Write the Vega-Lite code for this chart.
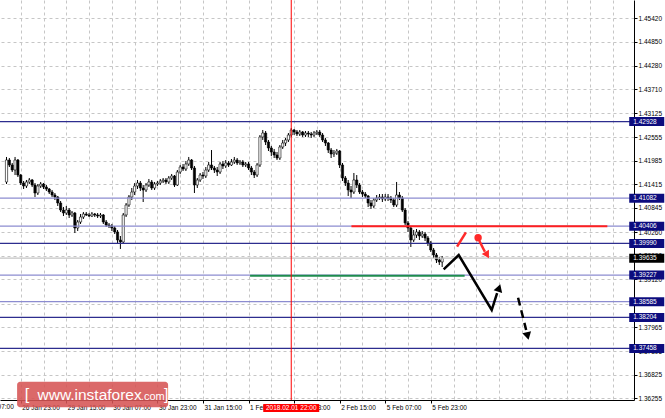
{
  "$schema": "https://vega.github.io/schema/vega-lite/v6.json",
  "width": 634,
  "height": 400,
  "autosize": {"type": "none"},
  "padding": {"left": 0, "top": 0, "right": 31, "bottom": 18},
  "background": "white",
  "config": {
    "view": {"stroke": null},
    "axis": {"labelFont": "Liberation Sans", "labelFontSize": 6.5, "labelColor": "#000", "labelOverlap": false, "labelSeparation": 0}
  },
  "datasets": {
    "candles": [
      {"t":1,"o":1.41472,"h":1.42075,"l":1.41423,"c":1.42002},
      {"t":2,"o":1.42002,"h":1.42050,"l":1.41833,"c":1.41882},
      {"t":3,"o":1.41882,"h":1.41930,"l":1.41713,"c":1.41761},
      {"t":4,"o":1.41761,"h":1.42075,"l":1.41640,"c":1.42002},
      {"t":5,"o":1.42002,"h":1.42026,"l":1.41592,"c":1.41640},
      {"t":6,"o":1.41640,"h":1.41665,"l":1.41399,"c":1.41447},
      {"t":7,"o":1.41447,"h":1.41496,"l":1.41303,"c":1.41375},
      {"t":8,"o":1.41375,"h":1.41520,"l":1.41327,"c":1.41472},
      {"t":9,"o":1.41472,"h":1.41568,"l":1.41423,"c":1.41520},
      {"t":10,"o":1.41520,"h":1.41544,"l":1.41351,"c":1.41399},
      {"t":11,"o":1.41399,"h":1.41447,"l":1.41110,"c":1.41206},
      {"t":12,"o":1.41206,"h":1.41423,"l":1.41158,"c":1.41375},
      {"t":13,"o":1.41375,"h":1.41472,"l":1.41327,"c":1.41423},
      {"t":14,"o":1.41423,"h":1.41447,"l":1.41303,"c":1.41351},
      {"t":15,"o":1.41351,"h":1.41399,"l":1.41255,"c":1.41303},
      {"t":16,"o":1.41303,"h":1.41327,"l":1.41182,"c":1.41230},
      {"t":17,"o":1.41230,"h":1.41279,"l":1.41110,"c":1.41158},
      {"t":18,"o":1.41158,"h":1.41206,"l":1.41037,"c":1.41110},
      {"t":19,"o":1.41110,"h":1.41134,"l":1.40893,"c":1.40965},
      {"t":20,"o":1.40965,"h":1.41013,"l":1.40748,"c":1.40796},
      {"t":21,"o":1.40796,"h":1.40869,"l":1.40651,"c":1.40724},
      {"t":22,"o":1.40724,"h":1.40893,"l":1.40676,"c":1.40796},
      {"t":23,"o":1.40796,"h":1.40844,"l":1.40603,"c":1.40676},
      {"t":24,"o":1.40676,"h":1.40772,"l":1.40627,"c":1.40724},
      {"t":25,"o":1.40724,"h":1.40748,"l":1.40241,"c":1.40362},
      {"t":26,"o":1.40362,"h":1.40555,"l":1.40290,"c":1.40507},
      {"t":27,"o":1.40507,"h":1.40700,"l":1.40459,"c":1.40627},
      {"t":28,"o":1.40627,"h":1.40748,"l":1.40579,"c":1.40700},
      {"t":29,"o":1.40700,"h":1.40748,"l":1.40651,"c":1.40676},
      {"t":30,"o":1.40676,"h":1.40724,"l":1.40627,"c":1.40651},
      {"t":31,"o":1.40651,"h":1.40748,"l":1.40627,"c":1.40700},
      {"t":32,"o":1.40700,"h":1.40724,"l":1.40627,"c":1.40676},
      {"t":33,"o":1.40676,"h":1.40724,"l":1.40603,"c":1.40651},
      {"t":34,"o":1.40651,"h":1.40724,"l":1.40603,"c":1.40676},
      {"t":35,"o":1.40676,"h":1.40700,"l":1.40459,"c":1.40507},
      {"t":36,"o":1.40507,"h":1.40555,"l":1.40386,"c":1.40434},
      {"t":37,"o":1.40434,"h":1.40483,"l":1.40362,"c":1.40410},
      {"t":38,"o":1.40410,"h":1.40459,"l":1.40290,"c":1.40362},
      {"t":39,"o":1.40362,"h":1.40410,"l":1.40217,"c":1.40266},
      {"t":40,"o":1.40266,"h":1.40314,"l":1.40000,"c":1.40073},
      {"t":41,"o":1.40073,"h":1.40169,"l":1.39856,"c":1.40024},
      {"t":42,"o":1.40024,"h":1.40724,"l":1.39976,"c":1.40676},
      {"t":43,"o":1.40676,"h":1.40965,"l":1.40627,"c":1.40917},
      {"t":44,"o":1.40917,"h":1.41158,"l":1.40869,"c":1.41110},
      {"t":45,"o":1.41110,"h":1.41327,"l":1.41037,"c":1.41230},
      {"t":46,"o":1.41230,"h":1.41447,"l":1.41158,"c":1.41375},
      {"t":47,"o":1.41375,"h":1.41520,"l":1.41303,"c":1.41447},
      {"t":48,"o":1.41447,"h":1.41496,"l":1.41255,"c":1.41327},
      {"t":49,"o":1.41327,"h":1.41399,"l":1.40989,"c":1.41279},
      {"t":50,"o":1.41279,"h":1.41447,"l":1.41230,"c":1.41399},
      {"t":51,"o":1.41399,"h":1.41544,"l":1.41351,"c":1.41472},
      {"t":52,"o":1.41472,"h":1.41520,"l":1.41279,"c":1.41327},
      {"t":53,"o":1.41327,"h":1.41472,"l":1.41279,"c":1.41423},
      {"t":54,"o":1.41423,"h":1.41496,"l":1.41375,"c":1.41447},
      {"t":55,"o":1.41447,"h":1.41544,"l":1.41399,"c":1.41496},
      {"t":56,"o":1.41496,"h":1.41568,"l":1.41447,"c":1.41520},
      {"t":57,"o":1.41520,"h":1.41568,"l":1.41423,"c":1.41472},
      {"t":58,"o":1.41472,"h":1.41616,"l":1.41423,"c":1.41568},
      {"t":59,"o":1.41568,"h":1.41665,"l":1.41520,"c":1.41616},
      {"t":60,"o":1.41616,"h":1.41640,"l":1.41351,"c":1.41399},
      {"t":61,"o":1.41399,"h":1.41761,"l":1.41375,"c":1.41713},
      {"t":62,"o":1.41713,"h":1.41882,"l":1.41665,"c":1.41833},
      {"t":63,"o":1.41833,"h":1.41906,"l":1.41737,"c":1.41785},
      {"t":64,"o":1.41785,"h":1.41978,"l":1.41737,"c":1.41906},
      {"t":65,"o":1.41906,"h":1.42075,"l":1.41858,"c":1.42002},
      {"t":66,"o":1.42002,"h":1.42026,"l":1.41761,"c":1.41809},
      {"t":67,"o":1.41809,"h":1.41858,"l":1.41206,"c":1.41399},
      {"t":68,"o":1.41399,"h":1.41568,"l":1.41327,"c":1.41520},
      {"t":69,"o":1.41520,"h":1.41689,"l":1.41472,"c":1.41640},
      {"t":70,"o":1.41640,"h":1.41713,"l":1.41544,"c":1.41616},
      {"t":71,"o":1.41616,"h":1.41833,"l":1.41568,"c":1.41761},
      {"t":72,"o":1.41761,"h":1.41954,"l":1.41713,"c":1.41882},
      {"t":73,"o":1.41882,"h":1.42243,"l":1.41761,"c":1.41809},
      {"t":74,"o":1.41809,"h":1.41858,"l":1.41689,"c":1.41761},
      {"t":75,"o":1.41761,"h":1.41833,"l":1.41616,"c":1.41713},
      {"t":76,"o":1.41713,"h":1.41954,"l":1.41665,"c":1.41906},
      {"t":77,"o":1.41906,"h":1.41978,"l":1.41785,"c":1.41858},
      {"t":78,"o":1.41858,"h":1.42002,"l":1.41809,"c":1.41930},
      {"t":79,"o":1.41930,"h":1.41978,"l":1.41833,"c":1.41882},
      {"t":80,"o":1.41882,"h":1.42026,"l":1.41858,"c":1.41954},
      {"t":81,"o":1.41954,"h":1.42075,"l":1.41906,"c":1.42002},
      {"t":82,"o":1.42002,"h":1.42050,"l":1.41882,"c":1.41930},
      {"t":83,"o":1.41930,"h":1.42002,"l":1.41882,"c":1.41954},
      {"t":84,"o":1.41954,"h":1.42002,"l":1.41833,"c":1.41882},
      {"t":85,"o":1.41882,"h":1.41954,"l":1.41833,"c":1.41906},
      {"t":86,"o":1.41906,"h":1.41954,"l":1.41761,"c":1.41809},
      {"t":87,"o":1.41809,"h":1.41858,"l":1.41640,"c":1.41713},
      {"t":88,"o":1.41713,"h":1.41761,"l":1.41568,"c":1.41640},
      {"t":89,"o":1.41640,"h":1.41930,"l":1.41592,"c":1.41882},
      {"t":90,"o":1.41882,"h":1.42605,"l":1.41833,"c":1.42557},
      {"t":91,"o":1.42557,"h":1.42726,"l":1.42485,"c":1.42653},
      {"t":92,"o":1.42653,"h":1.42702,"l":1.42364,"c":1.42436},
      {"t":93,"o":1.42436,"h":1.42485,"l":1.42219,"c":1.42292},
      {"t":94,"o":1.42292,"h":1.42340,"l":1.42099,"c":1.42195},
      {"t":95,"o":1.42195,"h":1.42268,"l":1.42050,"c":1.42123},
      {"t":96,"o":1.42123,"h":1.42195,"l":1.42002,"c":1.42050},
      {"t":97,"o":1.42050,"h":1.42364,"l":1.42002,"c":1.42316},
      {"t":98,"o":1.42316,"h":1.42485,"l":1.42268,"c":1.42412},
      {"t":99,"o":1.42412,"h":1.42533,"l":1.42340,"c":1.42485},
      {"t":100,"o":1.42485,"h":1.42653,"l":1.42436,"c":1.42605},
      {"t":101,"o":1.42605,"h":1.42774,"l":1.42557,"c":1.42726},
      {"t":102,"o":1.42726,"h":1.42750,"l":1.42605,"c":1.42678},
      {"t":103,"o":1.42678,"h":1.42726,"l":1.42581,"c":1.42629},
      {"t":104,"o":1.42629,"h":1.42726,"l":1.42581,"c":1.42678},
      {"t":105,"o":1.42678,"h":1.42702,"l":1.42557,"c":1.42605},
      {"t":106,"o":1.42605,"h":1.42702,"l":1.42557,"c":1.42653},
      {"t":107,"o":1.42653,"h":1.42702,"l":1.42557,"c":1.42629},
      {"t":108,"o":1.42629,"h":1.42678,"l":1.42533,"c":1.42605},
      {"t":109,"o":1.42605,"h":1.42702,"l":1.42557,"c":1.42653},
      {"t":110,"o":1.42653,"h":1.42726,"l":1.42605,"c":1.42678},
      {"t":111,"o":1.42678,"h":1.42726,"l":1.42557,"c":1.42605},
      {"t":112,"o":1.42605,"h":1.42653,"l":1.42436,"c":1.42485},
      {"t":113,"o":1.42485,"h":1.42533,"l":1.42340,"c":1.42412},
      {"t":114,"o":1.42412,"h":1.42436,"l":1.42171,"c":1.42243},
      {"t":115,"o":1.42243,"h":1.42292,"l":1.42050,"c":1.42147},
      {"t":116,"o":1.42147,"h":1.42243,"l":1.42075,"c":1.42171},
      {"t":117,"o":1.42171,"h":1.42268,"l":1.42123,"c":1.42219},
      {"t":118,"o":1.42219,"h":1.42243,"l":1.41809,"c":1.41882},
      {"t":119,"o":1.41882,"h":1.41930,"l":1.41496,"c":1.41568},
      {"t":120,"o":1.41568,"h":1.41616,"l":1.41375,"c":1.41447},
      {"t":121,"o":1.41447,"h":1.41520,"l":1.41134,"c":1.41279},
      {"t":122,"o":1.41279,"h":1.41375,"l":1.41086,"c":1.41230},
      {"t":123,"o":1.41230,"h":1.41689,"l":1.41182,"c":1.41520},
      {"t":124,"o":1.41520,"h":1.41640,"l":1.41327,"c":1.41399},
      {"t":125,"o":1.41399,"h":1.41447,"l":1.41182,"c":1.41230},
      {"t":126,"o":1.41230,"h":1.41279,"l":1.41110,"c":1.41182},
      {"t":127,"o":1.41182,"h":1.41230,"l":1.41086,"c":1.41134},
      {"t":128,"o":1.41134,"h":1.41158,"l":1.40869,"c":1.40965},
      {"t":129,"o":1.40965,"h":1.41037,"l":1.40820,"c":1.40893},
      {"t":130,"o":1.40893,"h":1.41086,"l":1.40844,"c":1.41037},
      {"t":131,"o":1.41037,"h":1.41158,"l":1.40989,"c":1.41086},
      {"t":132,"o":1.41086,"h":1.41182,"l":1.41037,"c":1.41110},
      {"t":133,"o":1.41110,"h":1.41182,"l":1.40989,"c":1.41062},
      {"t":134,"o":1.41062,"h":1.41182,"l":1.41013,"c":1.41110},
      {"t":135,"o":1.41110,"h":1.41182,"l":1.41013,"c":1.41086},
      {"t":136,"o":1.41086,"h":1.41134,"l":1.40965,"c":1.41037},
      {"t":137,"o":1.41037,"h":1.41086,"l":1.40869,"c":1.40917},
      {"t":138,"o":1.40917,"h":1.41472,"l":1.40869,"c":1.41158},
      {"t":139,"o":1.41158,"h":1.41230,"l":1.41037,"c":1.41086},
      {"t":140,"o":1.41086,"h":1.41134,"l":1.40748,"c":1.40796},
      {"t":141,"o":1.40796,"h":1.40844,"l":1.40434,"c":1.40483},
      {"t":142,"o":1.40483,"h":1.40531,"l":1.40266,"c":1.40362},
      {"t":143,"o":1.40362,"h":1.40410,"l":1.39904,"c":1.40073},
      {"t":144,"o":1.40073,"h":1.40314,"l":1.40024,"c":1.40193},
      {"t":145,"o":1.40193,"h":1.40338,"l":1.40121,"c":1.40266},
      {"t":146,"o":1.40266,"h":1.40314,"l":1.40073,"c":1.40169},
      {"t":147,"o":1.40169,"h":1.40290,"l":1.40121,"c":1.40217},
      {"t":148,"o":1.40217,"h":1.40266,"l":1.40048,"c":1.40121},
      {"t":149,"o":1.40121,"h":1.40169,"l":1.39928,"c":1.40000},
      {"t":150,"o":1.40000,"h":1.40048,"l":1.39783,"c":1.39831},
      {"t":151,"o":1.39831,"h":1.39880,"l":1.39638,"c":1.39711},
      {"t":152,"o":1.39711,"h":1.39759,"l":1.39518,"c":1.39590},
      {"t":153,"o":1.39590,"h":1.39663,"l":1.39470,"c":1.39542},
      {"t":154,"o":1.39542,"h":1.39687,"l":1.39421,"c":1.39635}
    ],
    "levels": [
      {"level":1.42928,"kind":"dark"},
      {"level":1.41082,"kind":"light"},
      {"level":1.40406,"kind":"light"},
      {"level":1.39990,"kind":"dark"},
      {"level":1.39635,"kind":"bid"},
      {"level":1.39227,"kind":"light"},
      {"level":1.38585,"kind":"light"},
      {"level":1.38204,"kind":"dark"},
      {"level":1.37458,"kind":"dark"}
    ],
    "pathMain": [
      {"t":154.53,"p":1.39366},
      {"t":159.82,"p":1.39711},
      {"t":171.40,"p":1.38384},
      {"t":173.30,"p":1.38794}
    ],
    "pathDash": [
      {"t":180.66,"p":1.38681},
      {"t":183.50,"p":1.37902}
    ],
    "pathRedSlash": [
      {"t":159.23,"p":1.39911},
      {"t":162.34,"p":1.40258}
    ],
    "pathRedArrow": [
      {"t":167.08,"p":1.40049},
      {"t":169.0,"p":1.39790}
    ]
  },
  "layer": [
    {
      "data": {"name": "candles"},
      "mark": {"type": "rule", "color": "#000", "strokeWidth": 1},
      "encoding": {
        "x": {
          "field": "t", "type": "quantitative", "title": null,
          "scale": {"domain": [0.469, 219.62], "nice": false, "zero": false},
          "axis": {
            "orient": "bottom",
            "values": [6, 14, 22, 30, 38, 46, 54, 62, 70, 78, 86, 94, 102, 110, 118, 126, 134, 142, 150, 158, 166, 174, 182, 190, 198, 206, 214],
            "tickCount": 500,
            "grid": true, "gridColor": "#c6c6c6", "gridDash": [3, 3], "gridWidth": 1,
            "domainColor": "#000", "domainWidth": 1,
            "tickSize": 3,
            "tickColor": {"condition": {"test": "indexof([6,22,38,54,70,86,102,118,134,150], datum.value) >= 0", "value": "#000"}, "value": "transparent"},
            "labelExpr": "datum.value == 6 ? '26 Jan 23:00' : datum.value == 22 ? '29 Jan 15:00' : datum.value == 38 ? '30 Jan 07:00' : datum.value == 54 ? '30 Jan 23:00' : datum.value == 70 ? '31 Jan 15:00' : datum.value == 86 ? '1 Feb 07:00' : datum.value == 102 ? '1 Feb 23:00' : datum.value == 118 ? '2 Feb 15:00' : datum.value == 134 ? '5 Feb 07:00' : datum.value == 150 ? '5 Feb 23:00' : ''",
            "labelAlign": "left", "labelBaseline": "top", "labelPadding": 1, "labelOffset": 1,
            "labelOverlap": false, "labelBound": false, "labelFlush": false,
            "title": null
          }
        },
        "y": {
          "field": "l", "type": "quantitative", "title": null,
          "scale": {"domain": [1.362134, 1.458614], "nice": false, "zero": false},
          "axis": {
            "orient": "right",
            "values": [1.36255, 1.36825, 1.37395, 1.37965, 1.38535, 1.3912, 1.3969, 1.4026, 1.40845, 1.41415, 1.41985, 1.42555, 1.43125, 1.4371, 1.4428, 1.4485, 1.4542],
            "tickCount": 500,
            "format": ".5f",
            "grid": true, "gridColor": "#c6c6c6", "gridDash": [3, 3], "gridWidth": 1,
            "domainColor": "#000", "domainWidth": 1,
            "tickSize": 3, "tickColor": "#000",
            "labelAlign": "left", "labelBaseline": "middle", "labelPadding": 1,
            "labelOverlap": false, "labelBound": false, "labelFlush": false,
            "title": null
          }
        },
        "y2": {"field": "h"}
      }
    },
    {
      "data": {"name": "candles"},
      "mark": {"type": "bar", "width": 2.2, "stroke": "#000", "strokeWidth": 0.6},
      "encoding": {
        "x": {"field": "t", "type": "quantitative", "title": null},
        "y": {"field": "o", "type": "quantitative", "title": null},
        "y2": {"field": "c"},
        "fill": {"condition": {"test": "datum.c >= datum.o", "value": "#ffffff"}, "value": "#000000"}
      }
    },
    {
      "data": {"name": "levels"},
      "mark": {"type": "rule", "strokeWidth": 1.3},
      "encoding": {
        "y": {"field": "level", "type": "quantitative", "title": null},
        "stroke": {"field": "kind", "type": "nominal", "scale": {"domain": ["dark", "light", "bid"], "range": ["#2d2d8e", "#8c8cd0", "#c4c4c4"]}, "legend": null}
      }
    },
    {
      "data": {"values": [{}]},
      "mark": {"type": "rule", "color": "#ff1f1f", "strokeWidth": 2},
      "encoding": {
        "x": {"datum": 122.14, "type": "quantitative"},
        "x2": {"datum": 212.01},
        "y": {"datum": 1.40406, "type": "quantitative"}
      }
    },
    {
      "data": {"values": [{}]},
      "mark": {"type": "rule", "color": "#1e8c4e", "strokeWidth": 2},
      "encoding": {
        "x": {"datum": 86.54, "type": "quantitative"},
        "x2": {"datum": 161.89},
        "y": {"datum": 1.39212, "type": "quantitative"}
      }
    },
    {
      "data": {"values": [{}]},
      "mark": {"type": "rule", "color": "#ff0000", "strokeWidth": 1},
      "encoding": {
        "x": {"datum": 101, "type": "quantitative"}
      }
    },
    {
      "data": {"name": "pathMain"},
      "mark": {"type": "line", "color": "#000", "strokeWidth": 2.5},
      "encoding": {
        "x": {"field": "t", "type": "quantitative", "title": null},
        "y": {"field": "p", "type": "quantitative", "title": null}
      }
    },
    {
      "data": {"name": "pathDash"},
      "mark": {"type": "line", "color": "#000", "strokeWidth": 2.5, "strokeDash": [8, 5]},
      "encoding": {
        "x": {"field": "t", "type": "quantitative", "title": null},
        "y": {"field": "p", "type": "quantitative", "title": null}
      }
    },
    {
      "data": {"name": "pathRedSlash"},
      "mark": {"type": "line", "color": "#ff2a2a", "strokeWidth": 2.5},
      "encoding": {
        "x": {"field": "t", "type": "quantitative", "title": null},
        "y": {"field": "p", "type": "quantitative", "title": null}
      }
    },
    {
      "data": {"name": "pathRedArrow"},
      "mark": {"type": "line", "color": "#ff2a2a", "strokeWidth": 2.5},
      "encoding": {
        "x": {"field": "t", "type": "quantitative", "title": null},
        "y": {"field": "p", "type": "quantitative", "title": null}
      }
    },
    {
      "data": {"values": [{}]},
      "mark": {"type": "point", "shape": "triangle-up", "filled": true, "color": "#000", "size": 80, "angle": 18, "opacity": 1},
      "encoding": {
        "x": {"datum": 173.99, "type": "quantitative"},
        "y": {"datum": 1.38915, "type": "quantitative"}
      }
    },
    {
      "data": {"values": [{}]},
      "mark": {"type": "point", "shape": "triangle-up", "filled": true, "color": "#000", "size": 80, "angle": 166, "opacity": 1},
      "encoding": {
        "x": {"datum": 184.02, "type": "quantitative"},
        "y": {"datum": 1.37757, "type": "quantitative"}
      }
    },
    {
      "data": {"values": [{}]},
      "mark": {"type": "point", "shape": "triangle-up", "filled": true, "color": "#ff2a2a", "size": 70, "angle": 150, "opacity": 1},
      "encoding": {
        "x": {"datum": 169.8, "type": "quantitative"},
        "y": {"datum": 1.39711, "type": "quantitative"}
      }
    },
    {
      "data": {"values": [{}]},
      "mark": {"type": "point", "shape": "circle", "filled": true, "color": "#ff2a2a", "size": 55, "opacity": 1},
      "encoding": {
        "x": {"datum": 166.63, "type": "quantitative"},
        "y": {"datum": 1.40128, "type": "quantitative"}
      }
    },
    {
      "data": {"name": "levels"},
      "mark": {"type": "rect", "yOffset": -4.5, "y2Offset": 4.5},
      "encoding": {
        "x": {"datum": 219.7, "type": "quantitative"},
        "x2": {"datum": 232},
        "y": {"field": "level", "type": "quantitative", "title": null},
        "y2": {"field": "level"},
        "fill": {"field": "kind", "type": "nominal", "scale": {"domain": ["dark", "light", "bid"], "range": ["#0c0c7e", "#0c0c7e", "#000000"]}, "legend": null}
      }
    },
    {
      "data": {"name": "levels"},
      "mark": {"type": "text", "align": "left", "baseline": "middle", "dx": 4, "color": "#ffffff", "font": "Liberation Sans", "fontSize": 6.5},
      "encoding": {
        "x": {"datum": 219.7, "type": "quantitative"},
        "y": {"field": "level", "type": "quantitative", "title": null},
        "text": {"field": "level", "type": "quantitative", "format": ".5f"}
      }
    },
    {
      "data": {"values": [{"label": "26 Jan 07:00"}]},
      "mark": {"type": "text", "align": "left", "baseline": "top", "dx": 1, "dy": 4, "color": "#000", "font": "Liberation Sans", "fontSize": 6.5},
      "encoding": {
        "x": {"datum": -10, "type": "quantitative"},
        "y": {"datum": 1.362134, "type": "quantitative"},
        "text": {"field": "label", "type": "nominal"}
      }
    },
    {
      "data": {"values": [{}]},
      "mark": {"type": "rect", "color": "#ff0000", "xOffset": -28, "x2Offset": 28, "yOffset": 4, "y2Offset": 12},
      "encoding": {
        "x": {"datum": 101, "type": "quantitative"},
        "x2": {"datum": 101},
        "y": {"datum": 1.362134, "type": "quantitative"},
        "y2": {"datum": 1.362134}
      }
    },
    {
      "data": {"values": [{"label": "2018.02.01 22:00"}]},
      "mark": {"type": "text", "align": "center", "baseline": "middle", "dy": 8, "color": "#ffffff", "font": "Liberation Sans", "fontSize": 6.5},
      "encoding": {
        "x": {"datum": 101, "type": "quantitative"},
        "y": {"datum": 1.362134, "type": "quantitative"},
        "text": {"field": "label", "type": "nominal"}
      }
    },
    {
      "data": {"values": [{}]},
      "mark": {"type": "rect", "color": "#d65454", "opacity": 0.88, "cornerRadius": 3},
      "encoding": {
        "x": {"datum": 4.72, "type": "quantitative"},
        "x2": {"datum": 57.75},
        "y": {"datum": 1.36655, "type": "quantitative"},
        "y2": {"datum": 1.36037}
      }
    },
    {
      "data": {"values": [{"label": "www.instaforex"}]},
      "mark": {"type": "text", "align": "left", "baseline": "alphabetic", "color": "#ffffff", "font": "Liberation Sans", "fontSize": 15.5},
      "encoding": {
        "x": {"datum": 11.88, "type": "quantitative"},
        "y": {"datum": 1.36225, "type": "quantitative"},
        "text": {"field": "label", "type": "nominal"}
      }
    },
    {
      "data": {"values": [{"label": ".com"}]},
      "mark": {"type": "text", "align": "left", "baseline": "alphabetic", "color": "#ffffff", "font": "Liberation Sans", "fontSize": 11},
      "encoding": {
        "x": {"datum": 48.17, "type": "quantitative"},
        "y": {"datum": 1.36225, "type": "quantitative"},
        "text": {"field": "label", "type": "nominal"}
      }
    },
    {
      "data": {"values": [{"label": "["}]},
      "mark": {"type": "text", "align": "left", "baseline": "alphabetic", "color": "#ffffff", "font": "Liberation Sans", "fontSize": 16},
      "encoding": {
        "x": {"datum": 7.38, "type": "quantitative"},
        "y": {"datum": 1.36225, "type": "quantitative"},
        "text": {"field": "label", "type": "nominal"}
      }
    },
    {
      "data": {"values": [{"label": "]"}]},
      "mark": {"type": "text", "align": "left", "baseline": "alphabetic", "color": "#ffffff", "font": "Liberation Sans", "fontSize": 16},
      "encoding": {
        "x": {"datum": 56.29, "type": "quantitative"},
        "y": {"datum": 1.36225, "type": "quantitative"},
        "text": {"field": "label", "type": "nominal"}
      }
    }
  ]
}
